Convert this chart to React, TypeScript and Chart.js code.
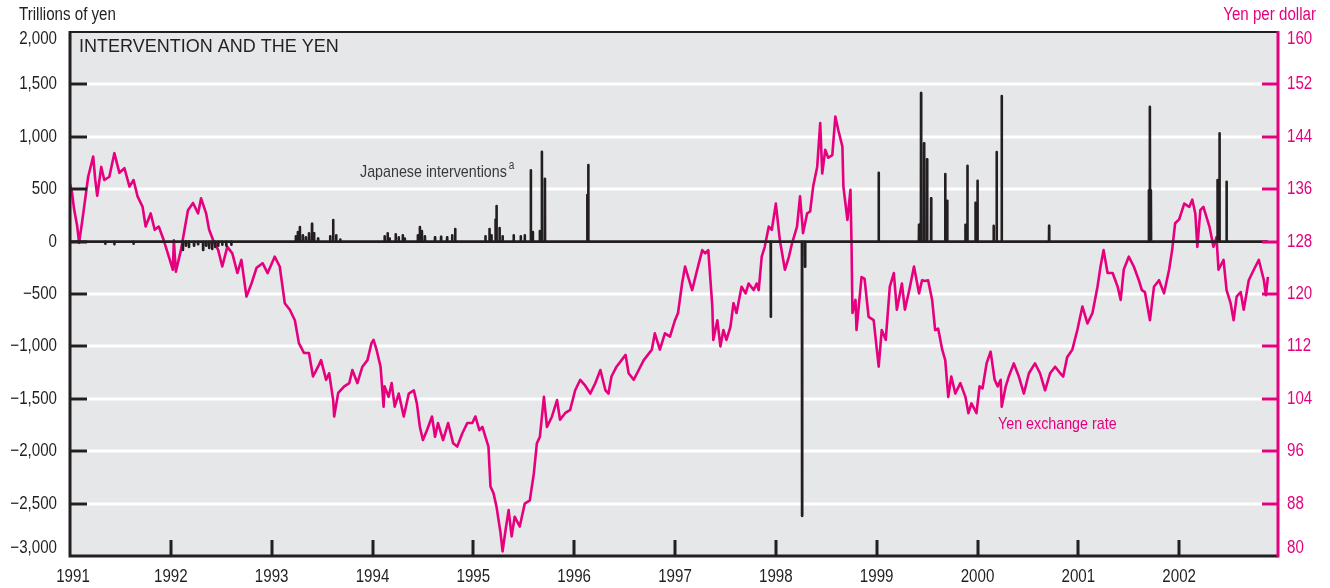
import { useEffect, useRef } from 'react';
import { Chart, registerables } from 'chart.js';

Chart.register(...registerables);

// ---------- data ----------
// Yen per dollar (decimal-year dates)
const rateDates = [
  1991.00, 1991.02, 1991.04, 1991.07, 1991.09, 1991.12, 1991.15, 1991.18, 1991.23, 1991.25, 1991.27, 1991.31, 1991.34, 1991.39, 1991.44, 1991.49, 1991.54, 1991.59, 1991.63, 1991.67, 1991.72, 1991.75, 1991.80, 1991.84, 1991.88, 1991.93, 1991.99,
  1992.02, 1992.03, 1992.05, 1992.10, 1992.13, 1992.17, 1992.22, 1992.27, 1992.30, 1992.35, 1992.38, 1992.42, 1992.47, 1992.51, 1992.56, 1992.61, 1992.66, 1992.70, 1992.75, 1992.80, 1992.85, 1992.91, 1992.96,
  1993.03, 1993.08, 1993.13, 1993.18, 1993.23, 1993.27, 1993.32, 1993.37, 1993.41, 1993.46, 1993.49, 1993.54, 1993.57, 1993.61, 1993.62, 1993.66, 1993.72, 1993.77, 1993.80, 1993.85, 1993.90, 1993.95, 1993.99,
  1994.01, 1994.04, 1994.08, 1994.11, 1994.12, 1994.16, 1994.19, 1994.22, 1994.26, 1994.31, 1994.36, 1994.41, 1994.44, 1994.47, 1994.50, 1994.54, 1994.59, 1994.62, 1994.65, 1994.70, 1994.75, 1994.80, 1994.84, 1994.89, 1994.94, 1994.99,
  1995.02, 1995.06, 1995.09, 1995.12, 1995.15, 1995.17, 1995.20, 1995.23, 1995.27, 1995.29, 1995.32, 1995.35, 1995.38, 1995.41, 1995.46, 1995.51, 1995.56, 1995.60, 1995.63, 1995.66, 1995.70, 1995.73, 1995.78, 1995.83, 1995.86, 1995.91, 1995.96,
  1996.01, 1996.06, 1996.11, 1996.16, 1996.21, 1996.26, 1996.31, 1996.34, 1996.37, 1996.42, 1996.47, 1996.51, 1996.54, 1996.59, 1996.64, 1996.69, 1996.74, 1996.77, 1996.80, 1996.85, 1996.90, 1996.95,
  1997.00, 1997.03, 1997.07, 1997.10, 1997.13, 1997.17, 1997.22, 1997.27, 1997.30, 1997.33, 1997.37, 1997.38, 1997.42, 1997.45, 1997.48, 1997.51, 1997.55, 1997.58, 1997.61, 1997.66, 1997.70, 1997.73, 1997.78, 1997.81, 1997.83, 1997.86, 1997.89, 1997.93, 1997.96,
  1998.00, 1998.04, 1998.09, 1998.13, 1998.16, 1998.21, 1998.24, 1998.27, 1998.31, 1998.34, 1998.37, 1998.41, 1998.44, 1998.46, 1998.49, 1998.52, 1998.56, 1998.59, 1998.62, 1998.66, 1998.67, 1998.71, 1998.74, 1998.75, 1998.76, 1998.79, 1998.80, 1998.85, 1998.88, 1998.92, 1998.97,
  1999.02, 1999.05, 1999.09, 1999.13, 1999.17, 1999.20, 1999.25, 1999.28, 1999.33, 1999.37, 1999.42, 1999.45, 1999.48, 1999.51, 1999.55, 1999.58, 1999.61, 1999.65, 1999.68, 1999.71, 1999.74, 1999.78, 1999.83, 1999.88, 1999.91, 1999.94, 1999.99,
  2000.02, 2000.05, 2000.09, 2000.13, 2000.17, 2000.20, 2000.23, 2000.24, 2000.28, 2000.31, 2000.36, 2000.41, 2000.46, 2000.51, 2000.57, 2000.62, 2000.67, 2000.72, 2000.77, 2000.82, 2000.85, 2000.89, 2000.94, 2000.99,
  2001.04, 2001.09, 2001.14, 2001.19, 2001.22, 2001.25, 2001.29, 2001.34, 2001.39, 2001.42, 2001.45, 2001.50, 2001.55, 2001.60, 2001.63, 2001.66, 2001.71, 2001.75, 2001.80, 2001.85, 2001.90, 2001.93, 2001.96,
  2002.00, 2002.05, 2002.10, 2002.13, 2002.16, 2002.18, 2002.21, 2002.24, 2002.30, 2002.34, 2002.37, 2002.39, 2002.44, 2002.47, 2002.51, 2002.54, 2002.57, 2002.61, 2002.64, 2002.69, 2002.74, 2002.79, 2002.84, 2002.86, 2002.88,
];
const rateYen = [
  136.8, 135.5, 133, 130.5, 127.8, 131, 134.4, 137.9, 141, 137.5, 135, 139.4, 137.4, 137.9, 141.5, 138.5, 139.2, 136.4, 137.4, 134.9, 133.3, 130.3, 132.3, 129.8, 130.3, 128.2, 125.2,
  123.7, 128.2, 123.4, 126.7, 129.3, 132.8, 133.9, 132.3, 134.6, 132.3, 129.8, 128.2, 126.7, 124.2, 127.2, 126.2, 123.2, 125.2, 119.6, 121.6, 124, 124.7, 123.2,
  125.7, 124.2, 118.6, 117.6, 116, 112.5, 111, 111, 107.4, 108.9, 109.9, 106.9, 107.9, 103.8, 101.3, 104.9, 105.9, 106.4, 108.4, 106.4, 108.9, 109.9, 112.5,
  113, 111.5, 108.9, 102.8, 105.9, 104.3, 106.4, 102.8, 104.8, 101.3, 104.8, 105.3, 103.3, 99.7, 97.7, 99.2, 101.3, 98.2, 100.3, 97.7, 100.3, 97.2, 96.7, 98.7, 100.3, 100.3,
  101.3, 99.2, 99.7, 98.2, 96.7, 90.6, 89.6, 87.5, 83.5, 80.7, 84, 87, 83, 86, 84.5, 88, 88.5, 92.6, 97.2, 98.2, 104.3, 99.7, 101.3, 103.8, 100.8, 101.8, 102.3,
  105.3, 106.9, 106, 104.8, 106.4, 108.4, 105.3, 104.8, 107.4, 108.9, 109.9, 110.7, 107.9, 106.9, 108.4, 109.9, 110.9, 111.5, 114, 111.5, 114, 113.5,
  116, 117.1, 121.6, 124.2, 122.6, 120.6, 123.7, 126.7, 126.2, 126.7, 118.1, 113, 116, 112, 114.5, 113, 115, 118.6, 117.1, 121.1, 120.1, 121.6, 120.6, 121.6, 120.6, 125.7, 127.2, 130.3, 129.8,
  133.8, 128.2, 123.7, 125.7, 127.7, 130.3, 134.9, 129.3, 132.3, 132.6, 136.4, 139.4, 146.1, 138.4, 142, 140.8, 141.2, 147.1, 145, 142.5, 136.4, 131.3, 135.9, 128.2, 117.1, 119.1, 114.5, 122.6, 122.3, 116.5, 116,
  108.9, 114.5, 113, 121.1, 123.2, 117.6, 121.6, 117.6, 121.1, 124.2, 120.1, 122.1, 122, 122.1, 119.1, 114.5, 114.7, 111.5, 109.9, 104.3, 107.4, 104.8, 106.4, 104.3, 101.8, 103.3, 101.8,
  105.9, 105.6, 109.4, 111.2, 106.9, 105.9, 106.9, 102.8, 105.9, 107.4, 109.4, 107.4, 104.8, 107.9, 109.4, 107.9, 105.3, 107.9, 108.9, 107.9, 107.4, 110.4, 111.5, 114.5,
  118.1, 115.5, 117.1, 121.1, 124.2, 126.7, 123.2, 123.2, 121.1, 119.1, 123.7, 125.7, 124.2, 122.1, 120.6, 120.3, 116, 121.1, 122.1, 120.1, 123.7, 126.7, 130.8,
  131.4, 133.8, 133.3, 134.4, 132.3, 127.2, 132.8, 133.3, 130.3, 127.2, 128.7, 123.7, 125.2, 120.6, 118.6, 116, 119.6, 120.3, 117.6, 122.1, 123.7, 125.2, 122.1, 119.8, 122.6,
];

// Japanese interventions (dates and amounts)
const interventionDates = [
  1991.35, 1991.44, 1991.63,
  1992.12, 1992.15, 1992.18, 1992.23, 1992.27, 1992.32, 1992.35, 1992.38, 1992.41, 1992.44, 1992.47, 1992.51, 1992.55, 1992.60,
  1993.24, 1993.26, 1993.28, 1993.31, 1993.34, 1993.37, 1993.40, 1993.42, 1993.46, 1993.58, 1993.61, 1993.64, 1993.68,
  1994.12, 1994.15, 1994.17, 1994.23, 1994.26, 1994.30, 1994.32, 1994.45, 1994.47, 1994.49, 1994.52, 1994.62, 1994.68, 1994.74, 1994.79, 1994.82,
  1995.12, 1995.16, 1995.18, 1995.22, 1995.23, 1995.26, 1995.29, 1995.40, 1995.47, 1995.51, 1995.57, 1995.59, 1995.66, 1995.68, 1995.71,
  1996.13, 1996.14,
  1997.95,
  1998.26, 1998.29,
  1999.02, 1999.42, 1999.44, 1999.47, 1999.50, 1999.54, 1999.68, 1999.70, 1999.88, 1999.90, 1999.98,
  2000.00, 2000.16, 2000.19, 2000.24, 2000.71,
  2001.70, 2001.71, 2001.72,
  2002.38, 2002.40, 2002.47,
];
const interventionAmounts = [
  -20, -25, -20,
  -80, -40, -50, -40, -25, -80, -40, -60, -70, -50, -40, -30, -40, -30,
  50, 90, 140, 60, 40, 80, 170, 80, 30, 50, 205, 60, 20,
  50, 80, 30, 70, 40, 60, 30, 60, 140, 100, 50, 40, 45, 40, 60, 120,
  50, 120, 60, 210, 340, 130, 50, 60, 50, 60, 680, 90, 100, 858, 600,
  445, 731,
  -716,
  -2617, -240,
  657, 160, 1417, 938, 785, 413, 645, 390, 160, 724, 371,
  581, 150, 855, 1390, 150,
  490, 1287, 490,
  588, 1033, 571,
];
const interventionStart = 1991.0;
const interventionEnd = 2002.88;

// Axis ticks
const yearTicks = [1991, 1992, 1993, 1994, 1995, 1996, 1997, 1998, 1999, 2000, 2001, 2002];
const leftTicks = [2000, 1500, 1000, 500, 0, -500, -1000, -1500, -2000, -2500, -3000];
const rightTicks = [160, 152, 144, 136, 128, 120, 112, 104, 96, 88, 80];

// ---------- styles ----------
const MAGENTA = '#e6007e';
const INK = '#231f20';
const BG = '#e6e7e8';
const SANS = '"Liberation Sans", Arial, sans-serif';
const SQUEEZE = 0.84;

const fmtLeft = (v: number) => {
  const s = Math.abs(v).toLocaleString('en-US');
  return v < 0 ? '\u2212' + s : s;
};

// condensed text: Liberation Sans squeezed horizontally
function narrowText(
  ctx: CanvasRenderingContext2D,
  text: string,
  x: number,
  y: number,
  align: CanvasTextAlign,
  size: number,
  color: string,
) {
  ctx.save();
  ctx.font = `${size}px ${SANS}`;
  ctx.fillStyle = color;
  ctx.textAlign = align;
  ctx.textBaseline = 'middle';
  ctx.translate(x, y);
  ctx.scale(SQUEEZE, 1);
  ctx.fillText(text, 0, 0);
  const w = ctx.measureText(text).width * SQUEEZE;
  ctx.restore();
  return w;
}

const framePlugin = {
  id: 'frame',
  beforeDatasetsDraw(chart: any) {
    const { ctx, chartArea, scales } = chart;
    const { left, right, top, bottom } = chartArea;
    ctx.save();
    ctx.fillStyle = BG;
    ctx.fillRect(left, top, right - left, bottom - top);
    ctx.strokeStyle = '#ffffff';
    ctx.lineWidth = 3;
    for (const v of leftTicks) {
      if (v === leftTicks[0] || v === leftTicks[leftTicks.length - 1] || v === 0) continue;
      const y = Math.round(scales.yL.getPixelForValue(v));
      ctx.beginPath();
      ctx.moveTo(left, y);
      ctx.lineTo(right, y);
      ctx.stroke();
    }
    ctx.restore();
  },
  afterDatasetsDraw(chart: any) {
    const { ctx, chartArea, scales } = chart;
    const { left, right, top, bottom } = chartArea;
    ctx.save();
    // inward tick marks
    ctx.lineWidth = 3;
    ctx.strokeStyle = INK;
    for (const v of leftTicks) {
      if (v === leftTicks[0] || v === leftTicks[leftTicks.length - 1]) continue;
      const y = Math.round(scales.yL.getPixelForValue(v));
      ctx.beginPath();
      ctx.moveTo(left, y);
      ctx.lineTo(left + 17, y);
      ctx.stroke();
    }
    for (const v of yearTicks) {
      if (v === yearTicks[0]) continue;
      const x = Math.round(scales.x.getPixelForValue(v));
      ctx.beginPath();
      ctx.moveTo(x, bottom);
      ctx.lineTo(x, bottom - 16);
      ctx.stroke();
    }
    ctx.strokeStyle = MAGENTA;
    for (const v of rightTicks) {
      if (v === rightTicks[0] || v === rightTicks[rightTicks.length - 1]) continue;
      const y = Math.round(scales.yR.getPixelForValue(v));
      ctx.beginPath();
      ctx.moveTo(right, y);
      ctx.lineTo(right - 16, y);
      ctx.stroke();
    }
    // frame
    ctx.strokeStyle = INK;
    ctx.lineWidth = 2;
    ctx.beginPath();
    ctx.moveTo(left, top);
    ctx.lineTo(right, top);
    ctx.stroke();
    ctx.lineWidth = 3;
    ctx.beginPath();
    ctx.moveTo(left, top - 1);
    ctx.lineTo(left, bottom);
    ctx.lineTo(right, bottom);
    ctx.stroke();
    ctx.strokeStyle = MAGENTA;
    ctx.beginPath();
    ctx.moveTo(right, top - 1);
    ctx.lineTo(right, bottom + 1.5);
    ctx.stroke();
    ctx.restore();

    // axis labels
    for (const v of leftTicks) {
      let y = scales.yL.getPixelForValue(v);
      y = Math.min(Math.max(y, top + 7), bottom - 8);
      narrowText(ctx, fmtLeft(v), left - 13, y, 'right', 18, INK);
    }
    for (const v of rightTicks) {
      let y = scales.yR.getPixelForValue(v);
      y = Math.min(Math.max(y, top + 7), bottom - 8);
      narrowText(ctx, String(v), right + 9, y, 'left', 18, MAGENTA);
    }
    for (const v of yearTicks) {
      const x = scales.x.getPixelForValue(v);
      narrowText(ctx, String(v), Math.max(x, left + 3), bottom + 21, 'center', 18, INK);
    }

    // unit labels
    narrowText(ctx, 'Trillions of yen', 19, 15, 'left', 18, INK);
    narrowText(ctx, 'Yen per dollar', 1316, 15, 'right', 18, MAGENTA);

    // title
    ctx.save();
    ctx.textAlign = 'left';
    ctx.textBaseline = 'middle';
    ctx.fillStyle = INK;
    ctx.font = `18px ${SANS}`;
    ctx.fillText('INTERVENTION AND THE YEN', left + 9, top + 15);
    ctx.restore();

    // series annotations
    const w = narrowText(ctx, 'Japanese interventions', 360, 172, 'left', 17, '#3a3a3a');
    narrowText(ctx, 'a', 360 + w + 2, 166, 'left', 12, '#3a3a3a');
    narrowText(ctx, 'Yen exchange rate', 998, 424, 'left', 17, MAGENTA);
  },
};

export default function App() {
  const ref = useRef<HTMLCanvasElement>(null);

  useEffect(() => {
    document.body.style.margin = '0';
    const canvas = ref.current;
    if (!canvas) return;

    const ratePoints = rateDates.map((d, i) => ({ x: d, y: rateYen[i] }));
    const spikePoints: { x: number; y: number }[] = [{ x: interventionStart, y: 0 }];
    interventionDates.forEach((d, i) => {
      spikePoints.push({ x: d - 0.0015, y: 0 });
      spikePoints.push({ x: d, y: interventionAmounts[i] });
      spikePoints.push({ x: d + 0.0015, y: 0 });
    });
    spikePoints.push({ x: interventionEnd, y: 0 });

    const chart = new Chart(canvas, {
      type: 'line',
      data: {
        datasets: [
          {
            label: 'Japanese interventions',
            data: spikePoints,
            yAxisID: 'yL',
            borderColor: INK,
            borderWidth: 2.6,
            pointRadius: 0,
            tension: 0,
            borderJoinStyle: 'round',
            order: 1,
          },
          {
            label: 'Yen exchange rate',
            data: ratePoints,
            yAxisID: 'yR',
            borderColor: MAGENTA,
            borderWidth: 2.6,
            pointRadius: 0,
            tension: 0,
            borderJoinStyle: 'round',
            order: 2,
          },
        ],
      },
      options: {
        animation: false,
        responsive: false,
        devicePixelRatio: 1,
        layout: { padding: { top: 32, left: 0, right: 0, bottom: 0 } },
        plugins: { legend: { display: false }, tooltip: { enabled: false } },
        scales: {
          x: {
            type: 'linear',
            min: 1991,
            max: 2002.98,
            grid: { display: false },
            border: { display: false },
            ticks: { display: false },
            afterFit: (s: any) => { s.height = 32; },
          },
          yL: {
            type: 'linear',
            position: 'left',
            min: -3000,
            max: 2000,
            grid: { display: false },
            border: { display: false },
            ticks: { display: false, stepSize: 500 },
            afterFit: (s: any) => { s.width = 70; },
          },
          yR: {
            type: 'linear',
            position: 'right',
            min: 80,
            max: 160,
            grid: { display: false },
            border: { display: false },
            ticks: { display: false, stepSize: 8 },
            afterFit: (s: any) => { s.width = 52; },
          },
        },
      } as any,
      plugins: [framePlugin],
    });
    return () => chart.destroy();
  }, []);

  return (
    <div style={{ position: 'absolute', left: 0, top: 0, width: 1330, height: 588 }}>
      <canvas ref={ref} width={1330} height={588} style={{ display: 'block' }} />
    </div>
  );
}
